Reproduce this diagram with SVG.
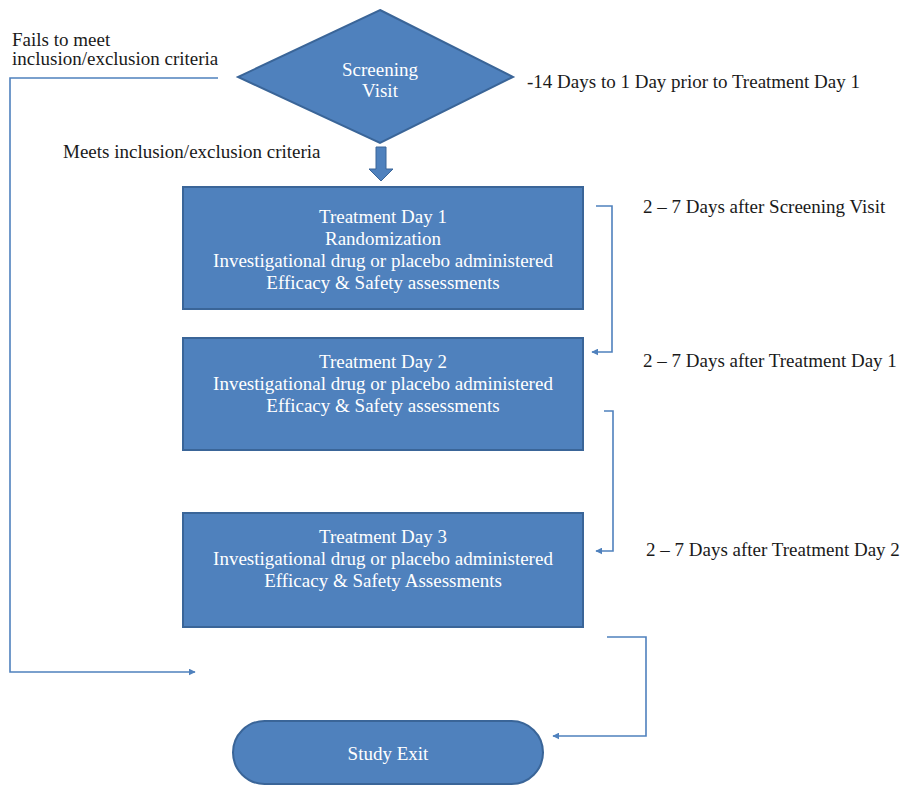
<svg xmlns="http://www.w3.org/2000/svg" width="903" height="786" viewBox="0 0 903 786">
<style>
.shape{fill:#4F81BD;stroke:#3A6598;stroke-width:2}
.wt{font-family:"Liberation Serif","Times New Roman",serif;font-size:19px;fill:#FFFFFF;text-anchor:middle}
.bt{font-family:"Liberation Serif","Times New Roman",serif;font-size:19px;fill:#1a1a1a}
.conn{fill:none;stroke:#4F81BD;stroke-width:1.6}
</style>
<defs>
<marker id="ah" viewBox="0 0 10 10" refX="9" refY="5" markerWidth="7" markerHeight="7" markerUnits="userSpaceOnUse" orient="auto">
<path d="M0,0 L10,5 L0,10 z" fill="#4F81BD"/>
</marker>
</defs>
<rect width="903" height="786" fill="#FFFFFF"/>

<g id="screening">
<polygon class="shape" points="380,10 513,77 380,143 238,77"/>
<text class="wt" x="380" y="76">Screening</text>
<text class="wt" x="380" y="97">Visit</text>
</g>

<g id="day1">
<rect class="shape" x="183" y="187" width="400" height="122"/>
<text class="wt" x="383" y="223">Treatment Day 1</text>
<text class="wt" x="383" y="245">Randomization</text>
<text class="wt" x="383" y="267">Investigational drug or placebo administered</text>
<text class="wt" x="383" y="289">Efficacy &amp; Safety assessments</text>
</g>

<g id="day2">
<rect class="shape" x="183" y="338" width="400" height="112"/>
<text class="wt" x="383" y="368">Treatment Day 2</text>
<text class="wt" x="383" y="390">Investigational drug or placebo administered</text>
<text class="wt" x="383" y="412">Efficacy &amp; Safety assessments</text>
</g>

<g id="day3">
<rect class="shape" x="183" y="513" width="400" height="114"/>
<text class="wt" x="383" y="543">Treatment Day 3</text>
<text class="wt" x="383" y="565">Investigational drug or placebo administered</text>
<text class="wt" x="383" y="587">Efficacy &amp; Safety Assessments</text>
</g>

<g id="exit">
<rect class="shape" x="233" y="721" width="310" height="63" rx="31.5" ry="31.5"/>
<text class="wt" x="388" y="760">Study Exit</text>
</g>

<g id="connectors">
<polygon points="376,147 386,147 386,169 393,169 381,181 369,169 376,169" fill="#4F81BD" stroke="#3A6598" stroke-width="1"/>
<polyline class="conn" points="218,78 10,78 10,672 195,672" marker-end="url(#ah)"/>
<polyline class="conn" points="596,206 612,206 612,352 592,352" marker-end="url(#ah)"/>
<polyline class="conn" points="604,411 613,411 613,551 596,551" marker-end="url(#ah)"/>
<polyline class="conn" points="607,637 646,637 646,736 553,736" marker-end="url(#ah)"/>
</g>

<g id="labels">
<text class="bt" x="12" y="46">Fails to meet</text>
<text class="bt" x="12" y="65">inclusion/exclusion criteria</text>
<text class="bt" x="63" y="158">Meets inclusion/exclusion criteria</text>
<text class="bt" x="527" y="88">-14 Days to 1 Day prior to Treatment Day 1</text>
<text class="bt" x="643" y="213">2 – 7 Days after Screening Visit</text>
<text class="bt" x="643" y="367">2 – 7 Days after Treatment Day 1</text>
<text class="bt" x="646" y="556">2 – 7 Days after Treatment Day 2</text>
</g>
</svg>
